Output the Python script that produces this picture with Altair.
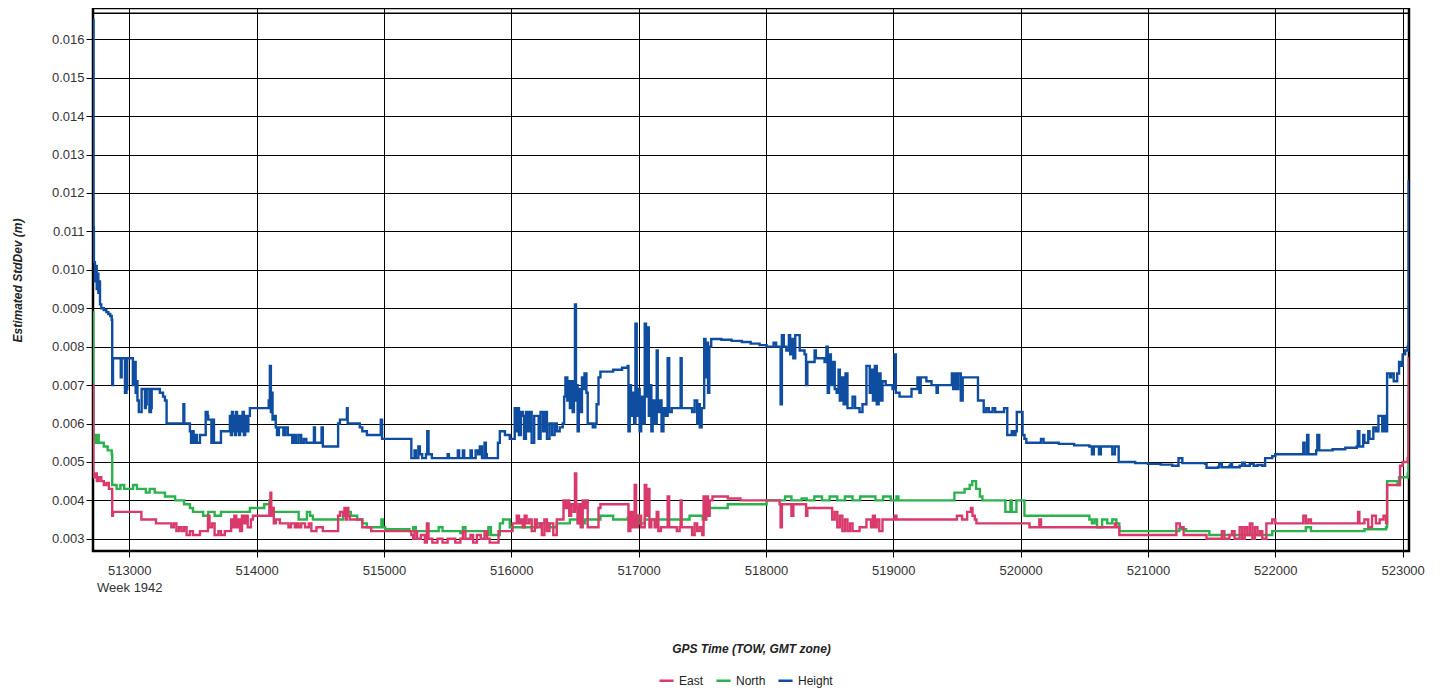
import altair as alt
import pandas as pd

# ---- data (GPS TOW seconds, std dev in metres) ----
height_pts = [
    (512716, 0.0108), (512717, 0.0165), (512719, 0.0111), (512722, 0.0102), (512730, 0.0097),
    (512737, 0.0101), (512744, 0.0095), (512750, 0.0099), (512757, 0.0094), (512764, 0.0097),
    (512770, 0.0091), (512780, 0.0090), (512800, 0.00895), (512820, 0.0089), (512835, 0.00885),
    (512850, 0.0088), (512862, 0.0087), (512866, 0.0070), (512872, 0.0077),
    (512927, 0.0077), (512933, 0.0072), (512940, 0.0077), (512960, 0.0077), (512966, 0.0068),
    (512978, 0.0069), (512984, 0.0077), (513022, 0.0077), (513028, 0.0070), (513034, 0.0076),
    (513045, 0.0076), (513050, 0.0068), (513058, 0.0071), (513064, 0.0066), (513075, 0.0063),
    (513090, 0.0063), (513097, 0.0069), (513118, 0.0069), (513123, 0.0064), (513130, 0.0065),
    (513137, 0.0069), (513150, 0.0069), (513158, 0.0063), (513170, 0.0064), (513176, 0.0069),
    (513240, 0.0068), (513265, 0.0067), (513280, 0.0066), (513293, 0.0060), (513420, 0.0060),
    (513425, 0.0065), (513432, 0.0060), (513460, 0.0060), (513476, 0.0058), (513485, 0.0055),
    (513495, 0.0058), (513505, 0.0055), (513516, 0.0057), (513530, 0.0055), (513555, 0.0057),
    (513594, 0.0057), (513600, 0.0063), (513615, 0.0062), (513620, 0.0061), (513635, 0.0061),
    (513645, 0.0055), (513655, 0.0061), (513665, 0.0055), (513712, 0.0055), (513720, 0.0058),
    (513777, 0.0058), (513790, 0.0062), (513798, 0.0057), (513806, 0.0063), (513814, 0.0058),
    (513822, 0.0062), (513830, 0.0057), (513838, 0.0063), (513846, 0.0058), (513854, 0.0062),
    (513862, 0.0057), (513870, 0.0062), (513880, 0.0058), (513890, 0.0063), (513900, 0.0057),
    (513910, 0.0062), (513920, 0.0058), (513935, 0.0062), (513947, 0.0064), (514000, 0.0064),
    (514085, 0.0064), (514095, 0.0066), (514104, 0.0075), (514112, 0.0063), (514118, 0.0068),
    (514125, 0.0061), (514135, 0.0062), (514150, 0.0059), (514160, 0.0057), (514175, 0.0059),
    (514200, 0.0059), (514210, 0.0057), (514225, 0.0059), (514245, 0.0057), (514261, 0.0057),
    (514280, 0.0055), (514295, 0.0057), (514310, 0.0055), (514330, 0.0057), (514350, 0.0055),
    (514370, 0.0056), (514390, 0.0055), (514442, 0.0055), (514450, 0.0059), (514458, 0.0055),
    (514497, 0.0055), (514510, 0.0059), (514520, 0.0054), (514628, 0.0054), (514640, 0.0060),
    (514654, 0.0061), (514700, 0.0061), (514709, 0.0064), (514715, 0.0060), (514787, 0.0060),
    (514810, 0.0059), (514830, 0.0058), (514866, 0.0057), (514968, 0.0057), (514975, 0.0061),
    (514985, 0.0056), (515203, 0.0056), (515215, 0.0051), (515240, 0.0053), (515250, 0.0051),
    (515270, 0.0054), (515282, 0.0052), (515300, 0.0051), (515330, 0.0052), (515340, 0.0058),
    (515350, 0.0052), (515376, 0.0051), (515480, 0.0051), (515500, 0.0052), (515510, 0.0051),
    (515560, 0.0051), (515580, 0.0053), (515590, 0.0051), (515620, 0.0053), (515630, 0.0051),
    (515660, 0.0051), (515680, 0.0053), (515690, 0.0051), (515720, 0.0053), (515740, 0.0052),
    (515753, 0.0054), (515770, 0.0051), (515790, 0.0055), (515800, 0.0052), (515808, 0.0051),
    (515880, 0.0051), (515895, 0.0055), (515910, 0.0058), (515935, 0.0058), (515950, 0.0057),
    (515988, 0.0056), (516010, 0.0056), (516027, 0.0064), (516040, 0.0058), (516050, 0.0064),
    (516060, 0.0057), (516075, 0.0063), (516090, 0.0062), (516100, 0.0056), (516115, 0.0063),
    (516130, 0.0058), (516145, 0.0063), (516160, 0.0055), (516180, 0.0062), (516200, 0.0062),
    (516215, 0.0056), (516230, 0.0063), (516250, 0.0058), (516265, 0.0063), (516280, 0.0056),
    (516300, 0.0060), (516320, 0.0057), (516340, 0.0060), (516357, 0.0058), (516380, 0.0059),
    (516404, 0.0060), (516415, 0.0067), (516425, 0.0072), (516440, 0.0066), (516450, 0.0071),
    (516460, 0.0064), (516470, 0.0071), (516482, 0.0063), (516492, 0.0071), (516500, 0.0091),
    (516508, 0.0066), (516514, 0.0070), (516521, 0.0058), (516530, 0.0069), (516540, 0.0063),
    (516555, 0.0072), (516565, 0.0069), (516575, 0.0073), (516590, 0.0068), (516600, 0.0060),
    (516640, 0.0059), (516660, 0.0060), (516670, 0.0065), (516685, 0.0072), (516700, 0.00735),
    (516800, 0.0074), (516870, 0.00745), (516914, 0.0075), (516920, 0.0058), (516930, 0.0070),
    (516940, 0.0062), (516953, 0.0068), (516965, 0.0060), (516975, 0.0086), (516985, 0.0062),
    (516995, 0.0069), (517008, 0.0058), (517020, 0.0067), (517032, 0.0060), (517048, 0.0086),
    (517058, 0.0067), (517070, 0.0085), (517080, 0.0062), (517090, 0.0070), (517100, 0.0058),
    (517110, 0.0066), (517126, 0.0060), (517142, 0.0079), (517150, 0.0063), (517166, 0.0066),
    (517180, 0.0058), (517195, 0.0064), (517210, 0.0062), (517228, 0.0077), (517240, 0.0063),
    (517260, 0.0064), (517322, 0.0064), (517330, 0.0077), (517338, 0.0064), (517400, 0.0064),
    (517420, 0.0063), (517440, 0.0066), (517460, 0.0060), (517470, 0.0065), (517480, 0.0059),
    (517495, 0.0064), (517503, 0.0064), (517515, 0.0082), (517525, 0.0072), (517535, 0.0081),
    (517545, 0.0068), (517555, 0.0080), (517570, 0.0082), (517650, 0.00818), (517730, 0.00815),
    (517810, 0.00812), (517880, 0.00808), (517950, 0.00804), (518005, 0.0080), (518050, 0.0080),
    (518060, 0.0081), (518080, 0.0080), (518107, 0.0080), (518115, 0.0065), (518125, 0.0083),
    (518140, 0.0080), (518160, 0.0079), (518180, 0.0083), (518190, 0.0078), (518200, 0.0082),
    (518215, 0.0077), (518230, 0.0083), (518250, 0.0083), (518265, 0.0079), (518290, 0.0079),
    (518303, 0.0078), (518315, 0.0070), (518325, 0.0076), (518360, 0.0076), (518382, 0.0079),
    (518392, 0.0077), (518460, 0.0076), (518475, 0.0080), (518485, 0.0068), (518495, 0.0078),
    (518510, 0.0070), (518525, 0.0076), (518540, 0.0069), (518555, 0.0068), (518570, 0.0074),
    (518580, 0.0066), (518595, 0.0072), (518610, 0.0065), (518625, 0.0073), (518640, 0.0064),
    (518660, 0.0064), (518680, 0.0067), (518700, 0.0064), (518735, 0.0063), (518758, 0.0065),
    (518780, 0.0065), (518789, 0.0075), (518805, 0.0075), (518815, 0.0068), (518825, 0.0074),
    (518840, 0.0066), (518855, 0.0075), (518870, 0.0065), (518885, 0.0073), (518900, 0.0066),
    (518915, 0.0071), (518940, 0.0070), (518994, 0.0069), (519010, 0.0078), (519020, 0.0068),
    (519049, 0.0067), (519100, 0.0067), (519143, 0.0069), (519190, 0.0072), (519205, 0.0068),
    (519215, 0.0072), (519260, 0.0071), (519300, 0.0070), (519330, 0.0070), (519340, 0.0068),
    (519350, 0.0070), (519441, 0.0070), (519460, 0.0073), (519470, 0.0069), (519480, 0.0073),
    (519495, 0.0069), (519510, 0.0073), (519530, 0.0066), (519545, 0.0072), (519650, 0.0072),
    (519665, 0.0066), (519700, 0.0066), (519710, 0.0063), (519730, 0.0064), (519750, 0.0063),
    (519780, 0.0064), (519800, 0.0063), (519857, 0.0063), (519870, 0.0064), (519888, 0.0064),
    (519895, 0.0057), (519920, 0.0057), (519930, 0.0058), (519945, 0.0057), (519960, 0.0058),
    (519970, 0.0063), (520005, 0.0063), (520015, 0.0057), (520030, 0.0056), (520045, 0.0055),
    (520140, 0.0055), (520160, 0.0056), (520180, 0.0055), (520300, 0.00547), (520420, 0.00543),
    (520540, 0.0054), (520560, 0.0052), (520575, 0.0054), (520600, 0.0054), (520615, 0.0052),
    (520630, 0.0054), (520700, 0.0054), (520720, 0.0052), (520740, 0.0054), (520750, 0.0054),
    (520770, 0.0050), (520900, 0.00497), (521000, 0.00495), (521100, 0.00493), (521191, 0.0049),
    (521230, 0.0049), (521240, 0.0051), (521262, 0.0051), (521270, 0.00497), (521450, 0.00495),
    (521460, 0.00485), (521550, 0.00487), (521560, 0.00496), (521580, 0.00486), (521640, 0.0049),
    (521650, 0.00497), (521660, 0.00486), (521720, 0.0049), (521740, 0.00498), (521760, 0.0049),
    (521800, 0.00495), (521830, 0.0049), (521860, 0.00492), (521898, 0.0049), (521920, 0.0051),
    (521976, 0.00515), (522000, 0.0052), (522212, 0.0052), (522220, 0.0055), (522230, 0.0052),
    (522250, 0.0057), (522260, 0.0052), (522321, 0.0053), (522330, 0.0057), (522345, 0.0053),
    (522450, 0.00533), (522550, 0.00537), (522640, 0.0054), (522648, 0.0058), (522660, 0.0054),
    (522690, 0.0057), (522700, 0.0055), (522730, 0.0058), (522740, 0.0056), (522770, 0.0059),
    (522790, 0.0058), (522810, 0.0062), (522840, 0.0058), (522855, 0.0062), (522870, 0.0058),
    (522878, 0.0073), (522900, 0.0072), (522910, 0.0073), (522930, 0.0071), (522957, 0.0073),
    (522972, 0.0076), (522990, 0.0075), (523000, 0.0078), (523020, 0.0079), (523040, 0.0080),
    (523045, 0.0081), (523047, 0.0123), (523049, 0.0115),
]

east_pts = [
    (512716, 0.0070), (512718, 0.0047), (512725, 0.0046), (512735, 0.0047), (512745, 0.0045),
    (512760, 0.0046), (512780, 0.0045), (512800, 0.0044), (512820, 0.00445), (512840, 0.0043),
    (512862, 0.0043), (512866, 0.0036), (512872, 0.0037), (513084, 0.0037), (513095, 0.0035),
    (513200, 0.0035), (513210, 0.0034), (513300, 0.0034), (513330, 0.0033), (513350, 0.0034),
    (513370, 0.0032), (513390, 0.0033), (513410, 0.0032), (513430, 0.0033), (513450, 0.0031),
    (513476, 0.0032), (513500, 0.0031), (513555, 0.0032), (513610, 0.0032), (513618, 0.0036),
    (513630, 0.0033), (513650, 0.0034), (513670, 0.0031), (513700, 0.0032), (513720, 0.0031),
    (513750, 0.0032), (513790, 0.0032), (513800, 0.0035), (513810, 0.0033), (513825, 0.0036),
    (513840, 0.0033), (513855, 0.0035), (513870, 0.0032), (513885, 0.0036), (513900, 0.0034),
    (513915, 0.0036), (513930, 0.0033), (513955, 0.0035), (513971, 0.0036), (514089, 0.0036),
    (514100, 0.0039), (514108, 0.0042), (514115, 0.0036), (514125, 0.0038), (514135, 0.0034),
    (514150, 0.0035), (514183, 0.0034), (514230, 0.0034), (514250, 0.0033), (514270, 0.0034),
    (514300, 0.0033), (514316, 0.0034), (514330, 0.0033), (514350, 0.0034), (514380, 0.0033),
    (514410, 0.0034), (514430, 0.0032), (514470, 0.0033), (514520, 0.0032), (514630, 0.0032),
    (514640, 0.0036), (514654, 0.0037), (514677, 0.0036), (514690, 0.0038), (514700, 0.0035),
    (514710, 0.0038), (514720, 0.0036), (514732, 0.0035), (514800, 0.0035), (514830, 0.0033),
    (514880, 0.0033), (514900, 0.0032), (515203, 0.0032), (515215, 0.0031), (515230, 0.0030),
    (515240, 0.0032), (515260, 0.0030), (515290, 0.0031), (515321, 0.0029), (515337, 0.0034),
    (515350, 0.0030), (515380, 0.0029), (515420, 0.0030), (515460, 0.0029), (515500, 0.0030),
    (515560, 0.0029), (515600, 0.0030), (515620, 0.0032), (515640, 0.0030), (515680, 0.0031),
    (515700, 0.0029), (515730, 0.0031), (515760, 0.0030), (515790, 0.0032), (515810, 0.0030),
    (515830, 0.0029), (515886, 0.0029), (515900, 0.0032), (515988, 0.0032), (516010, 0.0034),
    (516043, 0.0036), (516060, 0.0034), (516075, 0.0035), (516090, 0.0033), (516105, 0.0036),
    (516120, 0.0034), (516140, 0.0035), (516160, 0.0032), (516185, 0.0035), (516200, 0.0033),
    (516223, 0.0034), (516240, 0.0031), (516260, 0.0035), (516280, 0.0032), (516300, 0.0034),
    (516330, 0.0031), (516357, 0.0035), (516390, 0.0035), (516410, 0.0040), (516425, 0.0038),
    (516440, 0.0040), (516455, 0.0036), (516470, 0.0039), (516490, 0.0037), (516500, 0.0047),
    (516510, 0.0038), (516520, 0.0034), (516530, 0.0039), (516545, 0.0033), (516561, 0.0040),
    (516575, 0.0038), (516590, 0.0040), (516600, 0.0033), (516670, 0.0033), (516685, 0.0038),
    (516700, 0.0039), (516914, 0.0039), (516920, 0.0032), (516935, 0.0037), (516950, 0.0033),
    (516969, 0.0044), (516980, 0.0033), (516995, 0.0036), (517020, 0.0033), (517048, 0.0044),
    (517060, 0.0036), (517070, 0.0043), (517085, 0.0033), (517100, 0.0035), (517126, 0.0033),
    (517142, 0.0037), (517155, 0.0032), (517175, 0.0033), (517228, 0.0041), (517240, 0.0033),
    (517300, 0.0032), (517322, 0.0033), (517330, 0.0040), (517338, 0.0033), (517400, 0.0033),
    (517420, 0.0031), (517440, 0.0034), (517460, 0.0032), (517480, 0.0033), (517500, 0.0031),
    (517510, 0.0041), (517520, 0.0035), (517530, 0.0041), (517545, 0.0036), (517558, 0.0040),
    (517580, 0.0041), (517700, 0.00405), (517800, 0.0040), (518005, 0.0040), (518107, 0.0039),
    (518115, 0.0033), (518125, 0.0039), (518186, 0.0039), (518200, 0.0036), (518215, 0.0039),
    (518303, 0.0039), (518315, 0.0036), (518325, 0.0038), (518500, 0.0038), (518520, 0.0035),
    (518540, 0.0037), (518560, 0.0033), (518580, 0.0036), (518600, 0.0032), (518620, 0.0035),
    (518640, 0.0032), (518660, 0.0034), (518680, 0.0032), (518711, 0.0032), (518735, 0.0033),
    (518789, 0.0035), (518813, 0.0035), (518825, 0.0033), (518840, 0.0036), (518855, 0.0033),
    (518870, 0.0035), (518890, 0.0032), (518915, 0.0035), (518994, 0.0035), (519010, 0.0036),
    (519025, 0.0035), (519466, 0.0035), (519500, 0.0036), (519540, 0.0035), (519580, 0.0037),
    (519610, 0.0038), (519622, 0.0036), (519640, 0.0035), (519653, 0.0034), (519700, 0.0034),
    (519888, 0.0034), (519950, 0.0034), (520030, 0.0034), (520070, 0.0033), (520147, 0.0035),
    (520160, 0.0033), (520540, 0.0033), (520600, 0.0033), (520680, 0.0033), (520740, 0.0034),
    (520752, 0.0033), (520775, 0.0031), (521191, 0.0031), (521223, 0.0034), (521250, 0.0033),
    (521280, 0.0031), (521460, 0.0030), (521560, 0.0030), (521580, 0.0032), (521600, 0.0030),
    (521640, 0.0031), (521660, 0.0032), (521680, 0.0030), (521720, 0.0033), (521740, 0.0030),
    (521760, 0.0033), (521780, 0.0031), (521800, 0.0034), (521820, 0.0030), (521840, 0.0033),
    (521860, 0.0031), (521880, 0.0032), (521898, 0.0030), (521930, 0.0034), (521976, 0.0035),
    (522000, 0.0034), (522200, 0.0034), (522220, 0.0036), (522240, 0.0034), (522260, 0.0035),
    (522280, 0.0034), (522640, 0.0034), (522650, 0.0037), (522660, 0.0034), (522700, 0.0035),
    (522730, 0.0033), (522760, 0.0036), (522790, 0.0034), (522820, 0.0035), (522850, 0.0036),
    (522870, 0.0034), (522878, 0.0044), (522960, 0.0044), (522980, 0.0049), (523000, 0.0050),
    (523040, 0.0051), (523046, 0.0066), (523048, 0.0077), (523049, 0.0077),
]

north_pts = [
    (512716, 0.0089), (512718, 0.0056), (512725, 0.0057), (512735, 0.0055), (512745, 0.0057),
    (512760, 0.0055), (512780, 0.0055), (512800, 0.0054), (512830, 0.0053), (512862, 0.0052),
    (512866, 0.0044), (512880, 0.0044), (512900, 0.0043), (512930, 0.0044), (512960, 0.0043),
    (513000, 0.0043), (513030, 0.0044), (513060, 0.0043), (513100, 0.0043), (513130, 0.0042),
    (513160, 0.0043), (513200, 0.0042), (513240, 0.0042), (513280, 0.0041), (513320, 0.0041),
    (513360, 0.0040), (513398, 0.0040), (513430, 0.0039), (513476, 0.0038), (513500, 0.0037),
    (513540, 0.0037), (513580, 0.0036), (513620, 0.0037), (513670, 0.0036), (513720, 0.0037),
    (513790, 0.0037), (513850, 0.0037), (513900, 0.0037), (513947, 0.0038), (514000, 0.0038),
    (514060, 0.0039), (514100, 0.0040), (514110, 0.0038), (514128, 0.0037), (514200, 0.0037),
    (514316, 0.0037), (514330, 0.0035), (514380, 0.0035), (514395, 0.0037), (514420, 0.0036),
    (514442, 0.0035), (514650, 0.0035), (514680, 0.0037), (514700, 0.0037), (514740, 0.0036),
    (514790, 0.0035), (514830, 0.0034), (514866, 0.0033), (514968, 0.0033), (514980, 0.0035),
    (514991, 0.0033), (515010, 0.00325), (515200, 0.0032), (515230, 0.0033), (515250, 0.0032),
    (515400, 0.0032), (515430, 0.0033), (515460, 0.0032), (515600, 0.00315), (515620, 0.0033),
    (515640, 0.0032), (515800, 0.0031), (515820, 0.0033), (515840, 0.0031), (515886, 0.0031),
    (515910, 0.0034), (515935, 0.0035), (515964, 0.0035), (515988, 0.0033), (516100, 0.0033),
    (516200, 0.0034), (516300, 0.0033), (516357, 0.0034), (516420, 0.0034), (516460, 0.0035),
    (516530, 0.0034), (516580, 0.0035), (516700, 0.0036), (516800, 0.0035), (516914, 0.00355),
    (516950, 0.0036), (517000, 0.0034), (517048, 0.0035), (517200, 0.0035), (517400, 0.0036),
    (517503, 0.0035), (517530, 0.0038), (517558, 0.0038), (517700, 0.0039), (517900, 0.0039),
    (518005, 0.0040), (518100, 0.0040), (518150, 0.0041), (518200, 0.0040), (518280, 0.00405),
    (518320, 0.0040), (518380, 0.0041), (518440, 0.0040), (518500, 0.0041), (518560, 0.0040),
    (518620, 0.0041), (518680, 0.0040), (518740, 0.0041), (518800, 0.0041), (518860, 0.0040),
    (518920, 0.0041), (518980, 0.0040), (519025, 0.0041), (519040, 0.0040), (519465, 0.0040),
    (519480, 0.0042), (519520, 0.0042), (519560, 0.0043), (519600, 0.0044), (519620, 0.0045),
    (519650, 0.0043), (519680, 0.0041), (519700, 0.0040), (519857, 0.0040), (519880, 0.0037),
    (519912, 0.0037), (519920, 0.0040), (519930, 0.0037), (519950, 0.0037), (519967, 0.0040),
    (520014, 0.0040), (520030, 0.0036), (520540, 0.0035), (520560, 0.0034), (520580, 0.0035),
    (520600, 0.0033), (520640, 0.0035), (520680, 0.0034), (520720, 0.0035), (520752, 0.0034),
    (520775, 0.0032), (521191, 0.0032), (521246, 0.00325), (521300, 0.0032), (521482, 0.0031),
    (521950, 0.0031), (521976, 0.0032), (522212, 0.0032), (522240, 0.0033), (522280, 0.0032),
    (522650, 0.0032), (522700, 0.00325), (522870, 0.0033), (522878, 0.0045), (522960, 0.0044),
    (522972, 0.0046), (523020, 0.0046), (523040, 0.0047), (523046, 0.0063), (523048, 0.0068),
    (523049, 0.0068),
]

series_names = ["East", "North", "Height"]
series_colors = ["#D93A6B", "#2BB24C", "#0E4DA0"]
x_ticks = [513000, 514000, 515000, 516000, 517000, 518000, 519000, 520000, 521000, 522000, 523000]
y_ticks = [0.003, 0.004, 0.005, 0.006, 0.007, 0.008, 0.009, 0.010, 0.011, 0.012, 0.013, 0.014, 0.015, 0.016]
x_domain = [512715, 523050]
y_domain = [0.002682, 0.016814]
upper_line = [0.01668]

rows = []
for name, pts in (("North", north_pts), ("East", east_pts), ("Height", height_pts)):
    for t, v in pts:
        rows.append({"tow": t, "value": v, "series": name})
df = pd.DataFrame(rows)

FONT = "Arial, Liberation Sans, sans-serif"

x_enc = alt.X(
    "tow:Q",
    scale=alt.Scale(domain=x_domain, nice=False, zero=False),
    axis=alt.Axis(
        values=x_ticks, format="d", title="GPS Time (TOW, GMT zone)",
        labelExpr="datum.value == 513000 ? ['513000', 'Week 1942'] : datum.label",
        labelLineHeight=17, tickSize=6, labelPadding=7, labelFontSize=13,
        titleX=658, titleY=97, titleBaseline="middle",
    ),
)
y_enc = alt.Y(
    "value:Q",
    scale=alt.Scale(domain=y_domain, nice=False, zero=False),
    axis=alt.Axis(
        values=y_ticks, format=".3f", title="Estimated StdDev (m)",
        tickSize=7, labelPadding=2, labelFontSize=13,
        titleX=-76, titleY=272, titleAngle=-90, titleAlign="center", titleBaseline="middle",
    ),
)

lines = alt.Chart(df).mark_line(strokeWidth=2.4, clip=True, interpolate="step-after").encode(
    x=x_enc,
    y=y_enc,
    color=alt.Color(
        "series:N",
        scale=alt.Scale(domain=series_names, range=series_colors),
        legend=alt.Legend(
            title=None, orient="none", direction="horizontal", legendX=565, legendY=664,
            symbolType="stroke", symbolSize=200, symbolStrokeWidth=2.5,
            labelFontSize=12, labelFont=FONT, labelColor="#222", columnPadding=7, labelOffset=4,
            padding=0,
        ),
    ),
    detail="series:N",
)

top_rule = alt.Chart(pd.DataFrame({"value": upper_line})).mark_rule(
    color="#000", strokeWidth=1.5
).encode(y=alt.Y("value:Q"))

chart = (
    alt.layer(lines, top_rule)
    .properties(
        width=1316, height=543,
        autosize=alt.AutoSizeParams(type="none"),
        padding={"left": 85, "top": 0, "right": 20, "bottom": 140},
        background="white",
    )
    .configure_view(stroke="#000", strokeWidth=2.5)
    .configure_axis(
        grid=True, gridColor="#000", gridOpacity=1, gridWidth=1,
        domain=False, tickColor="#000", tickWidth=1,
        labelFont=FONT, labelColor="#333",
        titleFont=FONT, titleFontSize=12, titleFontWeight="bold", titleFontStyle="italic",
        titleColor="#222",
    )
)

chart.save("out.html", embed_options={"renderer": "svg", "actions": False})
